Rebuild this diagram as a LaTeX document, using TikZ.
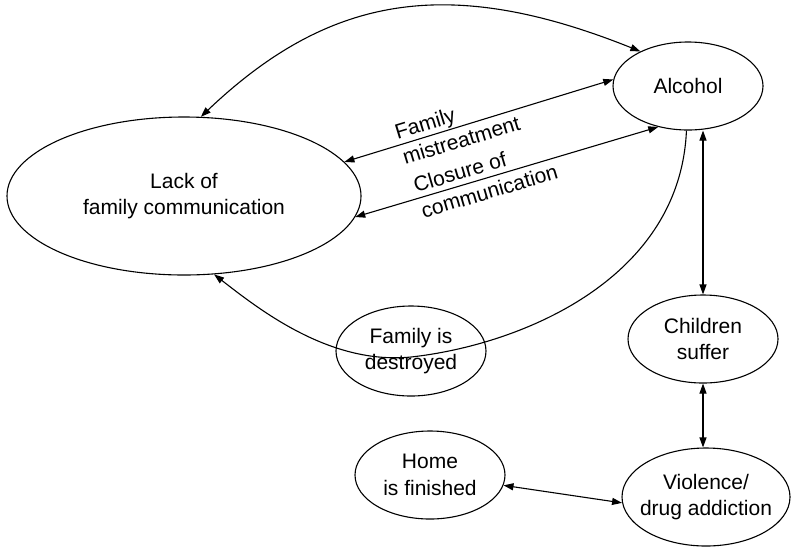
\documentclass[tikz,border=0pt]{standalone}
\usepackage{fontspec}
\setmainfont{Liberation Sans}
\usetikzlibrary{shapes.geometric,arrows.meta}
\begin{document}
\begin{tikzpicture}[x=1pt,y=-1pt,
  every node/.style={font=\fontsize{21}{26.5}\selectfont},
  state/.style={ellipse, draw, line width=1.1pt, inner sep=0pt, align=center},
  link/.style={line width=1.1pt, >={Triangle[length=10pt,width=7pt]}},
  lbl/.style={sloped, align=left, inner sep=0pt}]
\useasboundingbox (0,0) rectangle (791,547);

% concepts
\node[state, minimum width=354pt, minimum height=158pt] (lack) at (184,196) {Lack of\\family communication};
\node[state, minimum width=150pt, minimum height=88pt] (alc) at (688,86) {Alcohol};
\node[state, minimum width=150pt, minimum height=88pt] (child) at (703,339) {Children\\suffer};
\node[state, minimum width=150pt, minimum height=90pt] (destr) at (411,351) {Family is\\destroyed};
\node[state, minimum width=150pt, minimum height=88pt] (home) at (430,475) {Home\\is finished};
\node[state, minimum width=168pt, minimum height=98pt, inner xsep=-15pt] (vio) at (706,497) {Violence/\\drug addiction};

% relations
\draw[link, <->] (lack.78) .. controls (330,-6) and (450,-25) .. (alc.144);
\draw[link, <->] (lack.12.8) -- node[lbl, pos=0.42] {Family\\mistreatment} (alc.175);
\draw[link, <->] (lack.-7.2) -- node[lbl, pos=0.43] {Closure of\\communication} (alc.234);
\draw[link, ->] (alc.-92) .. controls (680,280) and (520,345) .. (411,357)
  .. controls (330,365) and (260,310) .. (lack.-69);
\draw[link, <->] (child.north |- alc.south) -- (child.north);
\draw[link, <->] (child.south) -- (child.south |- vio.north);
\draw[link, <->] (home.-8) -- (vio.184);
\end{tikzpicture}
\end{document}
